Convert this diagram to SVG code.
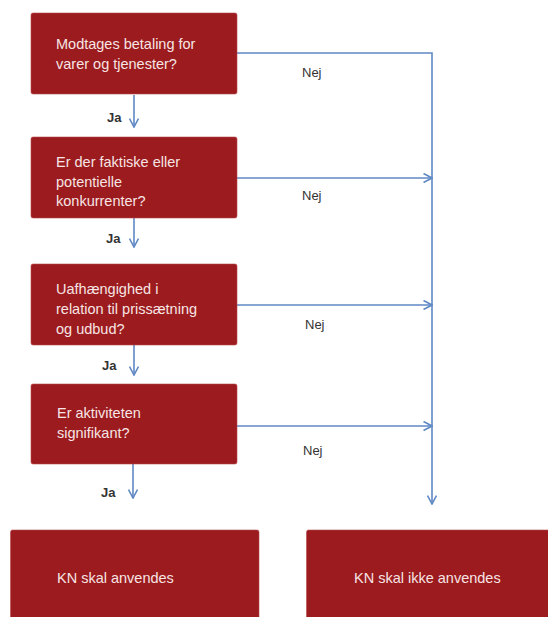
<svg xmlns="http://www.w3.org/2000/svg" width="548" height="617" viewBox="0 0 548 617">
<style>
.box{fill:#9B1B1E;stroke:#B84A4C;stroke-width:0.6}
.bt{font-family:"Liberation Sans",Arial,sans-serif;font-size:14.5px;fill:#F7E4E4}
.ln{fill:none;stroke:#5F88C4;stroke-width:1.6}
.ja{font-family:"Liberation Sans",Arial,sans-serif;font-size:13px;font-weight:bold;fill:#333}
.nej{font-family:"Liberation Sans",Arial,sans-serif;font-size:13px;fill:#333}
</style>
<defs>
<marker id="ah" viewBox="0 0 10 10" refX="9.5" refY="5" markerWidth="10" markerHeight="10" markerUnits="userSpaceOnUse" orient="auto">
<path d="M1,0.5 L9.5,5 L1,9.5" fill="none" stroke="#5F88C4" stroke-width="1.6"/>
</marker>
</defs>
<rect width="548" height="617" fill="#fff"/>
<g id="connectors">
<path class="ln" d="M237,53 H432 V504" marker-end="url(#ah)"/>
<path class="ln" d="M237,178 H432" marker-end="url(#ah)"/>
<path class="ln" d="M237,305 H432" marker-end="url(#ah)"/>
<path class="ln" d="M237,426 H432" marker-end="url(#ah)"/>
<path class="ln" d="M134,95 V127" marker-end="url(#ah)"/>
<path class="ln" d="M134,218 V247" marker-end="url(#ah)"/>
<path class="ln" d="M134,345 V375" marker-end="url(#ah)"/>
<path class="ln" d="M133,464 V498" marker-end="url(#ah)"/>
<text class="ja" x="107" y="122">Ja</text>
<text class="ja" x="106" y="243">Ja</text>
<text class="ja" x="102" y="370">Ja</text>
<text class="ja" x="101" y="497">Ja</text>
<text class="nej" x="302" y="77">Nej</text>
<text class="nej" x="302" y="200">Nej</text>
<text class="nej" x="305" y="329">Nej</text>
<text class="nej" x="303" y="455">Nej</text>
</g>
<g id="n1">
<rect class="box" x="31" y="13" width="206" height="81" rx="2"/>
<text class="bt" x="56" y="49">Modtages betaling for</text>
<text class="bt" x="56" y="69">varer og tjenester?</text>
</g>
<g id="n2">
<rect class="box" x="31" y="137" width="206" height="81" rx="2"/>
<text class="bt" x="56" y="167">Er der faktiske eller</text>
<text class="bt" x="56" y="186.5">potentielle</text>
<text class="bt" x="56" y="206">konkurrenter?</text>
</g>
<g id="n3">
<rect class="box" x="31" y="264" width="206" height="81" rx="2"/>
<text class="bt" x="56" y="294">Uafhængighed i</text>
<text class="bt" x="56" y="314">relation til prissætning</text>
<text class="bt" x="56" y="334">og udbud?</text>
</g>
<g id="n4">
<rect class="box" x="31" y="384" width="206" height="80" rx="2"/>
<text class="bt" x="57" y="418">Er aktiviteten</text>
<text class="bt" x="57" y="438">signifikant?</text>
</g>
<g id="n5">
<rect class="box" x="10.5" y="530" width="248.5" height="95" rx="2"/>
<text class="bt" x="57" y="583">KN skal anvendes</text>
</g>
<g id="n6">
<rect class="box" x="306.5" y="530" width="250" height="95" rx="2"/>
<text class="bt" x="354" y="583">KN skal ikke anvendes</text>
</g>
</svg>
